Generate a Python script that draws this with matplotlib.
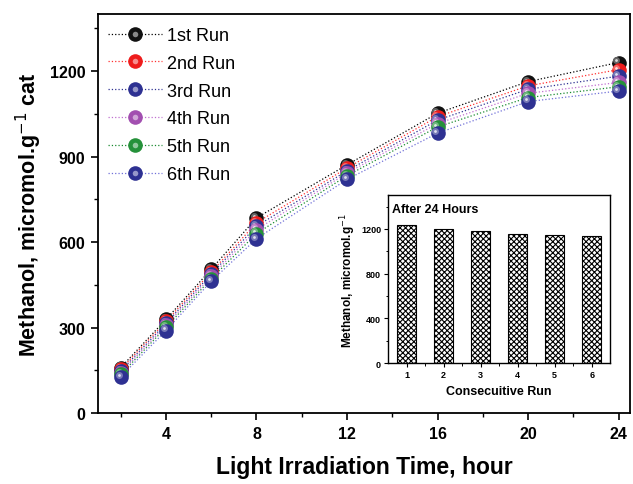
import numpy as np
import matplotlib
matplotlib.use('Agg')
import matplotlib.pyplot as plt
from matplotlib.transforms import offset_copy
from matplotlib.legend_handler import HandlerTuple
from matplotlib.lines import Line2D
import matplotlib.colors as mcolors

plt.rcParams['font.family'] = ['Liberation Sans', 'DejaVu Sans']
plt.rcParams['mathtext.fontset'] = 'custom'
plt.rcParams['mathtext.rm'] = 'Liberation Sans:bold'
plt.rcParams['mathtext.default'] = 'rm'
plt.rcParams['hatch.linewidth'] = 0.8

# data
hours = [2, 4, 6, 8, 12, 16, 20, 24]
run_labels = ['1st Run', '2nd Run', '3rd Run', '4th Run', '5th Run', '6th Run']
run1 = [160, 329, 505, 685, 871, 1052, 1163, 1230]
run2 = [154, 322, 495, 668, 860, 1040, 1148, 1205]
run3 = [148, 315, 488, 656, 850, 1028, 1136, 1182]
run4 = [142, 308, 480, 644, 842, 1016, 1122, 1160]
run5 = [136, 301, 472, 630, 833, 1004, 1107, 1145]
run6 = [128, 290, 463, 612, 820, 982, 1093, 1130]
runs = [run1, run2, run3, run4, run5, run6]

ball_colors = ['#111111', '#ee1c1c', '#2e3192', '#a24fb0', '#25913a', '#2e3192']
line_colors = ['#000000', '#ff3030', '#2e3192', '#c070d0', '#1a8a30', '#7070d8']

bar_runs = [1, 2, 3, 4, 5, 6]
bar_vals = [1232, 1203, 1182, 1158, 1143, 1134]


def lighter(c, f):
    r, g, b = mcolors.to_rgb(c)
    return (r + (1 - r) * f, g + (1 - g) * f, b + (1 - b) * f)


fig = plt.figure(figsize=(6.33, 4.85), dpi=100)
ax = fig.add_axes([0.155, 0.146, 0.84, 0.823])

hl = offset_copy(ax.transData, fig=fig, x=-1.5, y=1.5, units='points')
handles = []
for i, (vals, lab) in enumerate(zip(runs, run_labels)):
    z = 3 + i
    ax.plot(hours, vals, ls=':', lw=0.9, color=line_colors[i], zorder=2)
    ax.plot(hours, vals, 'o', ms=10.5, mfc=ball_colors[i], mec='none', zorder=z)
    ax.plot(hours, vals, 'o', ms=5, mfc=lighter(ball_colors[i], 0.35), mec='none',
            transform=hl, zorder=z + 0.1)
    ax.plot(hours, vals, 'o', ms=2, mfc=lighter(ball_colors[i], 0.85), mec='none',
            transform=hl, zorder=z + 0.2)
    h1 = Line2D([], [], ls=':', lw=0.9, color=line_colors[i], marker='o', ms=10.5,
                mfc=ball_colors[i], mec='none')
    h2 = Line2D([], [], ls='none', marker='o', ms=4, mfc=lighter(ball_colors[i], 0.5), mec='none')
    handles.append((h1, h2))

leg = ax.legend(handles, run_labels, handler_map={tuple: HandlerTuple(ndivide=1)},
                loc='upper left', bbox_to_anchor=(-0.002, 0.995), frameon=False,
                fontsize=13, handlelength=3.0, handletextpad=0.3, labelspacing=0.6,
                numpoints=1, borderaxespad=0.2)

ax.set_xlim(1, 24.5)
ax.set_ylim(0, 1400)
ax.set_xticks([4, 8, 12, 16, 20, 24])
ax.set_xticks([2, 6, 10, 14, 18, 22], minor=True)
ax.set_yticks([0, 300, 600, 900, 1200])
ax.set_yticks([150, 450, 750, 1050, 1350], minor=True)
ax.tick_params(which='major', direction='out', length=5, width=1.2, labelsize=11.5, pad=4)
ax.tick_params(which='minor', direction='out', length=3, width=1.0)
for lab in ax.get_xticklabels() + ax.get_yticklabels():
    lab.set_fontweight('bold')
for s in ax.spines.values():
    s.set_linewidth(1.3)
ax.set_xlabel('Light Irradiation Time, hour', fontsize=16.5, fontweight='bold', labelpad=10)
ax.set_ylabel(r'Methanol, micromol.g$^{\mathsf{-1}}$ cat', fontsize=15.5, fontweight='bold',
              labelpad=4)

# inset
ins = fig.add_axes([0.613, 0.249, 0.351, 0.346])
ins.bar(bar_runs, bar_vals, width=0.52, color='white', edgecolor='black', lw=0.8,
        hatch='xxxxxx', zorder=2)
ins.set_xlim(0.5, 6.5)
ins.set_ylim(0, 1500)
ins.set_xticks(bar_runs)
ins.set_yticks([0, 400, 800, 1200])
ins.set_yticks([200, 600, 1000, 1400], minor=True)
ins.set_xticks([1.5, 2.5, 3.5, 4.5, 5.5], minor=True)
ins.tick_params(which='major', direction='out', length=3, width=0.8, labelsize=6.5, pad=2)
ins.tick_params(which='minor', direction='out', length=1.8, width=0.7)
for lab in ins.get_xticklabels() + ins.get_yticklabels():
    lab.set_fontweight('bold')
for s in ins.spines.values():
    s.set_linewidth(1.0)
ins.text(0.02, 0.955, 'After 24 Hours', transform=ins.transAxes, ha='left', va='top',
         fontsize=9, fontweight='bold')
ins.set_xlabel('Consecuitive Run', fontsize=9, fontweight='bold', labelpad=4)
ins.set_ylabel(r'Methanol, micromol.g$^{\mathsf{-1}}$', fontsize=8.5, fontweight='bold',
               labelpad=2)

fig.savefig('out.png', dpi=100)
